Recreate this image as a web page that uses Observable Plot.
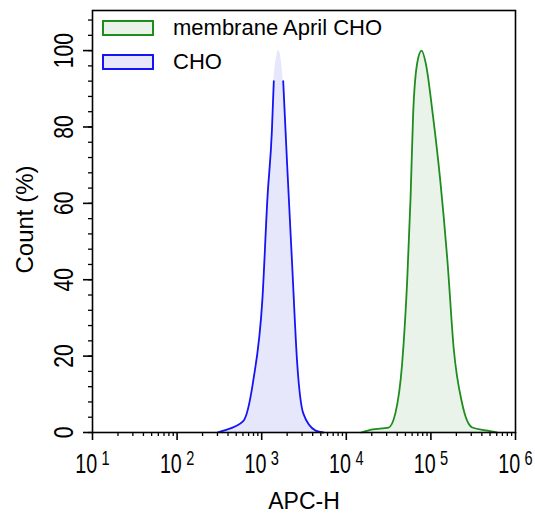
<!DOCTYPE html>
<html><head><meta charset="utf-8">
<script src="https://cdn.jsdelivr.net/npm/d3@7"></script>
<script src="https://cdn.jsdelivr.net/npm/@observablehq/plot@0.6"></script>
<style>
body{margin:0;background:#fff;}
#wrap{position:relative;width:535px;height:514px;}
.leg{position:absolute;left:102px;font-family:"Liberation Sans",Arial,sans-serif;font-size:22px;display:flex;align-items:center;height:20px;}
.sw{box-sizing:border-box;width:52px;height:16px;border:2px solid;margin-right:19px;}
</style></head><body><div id="wrap"></div>
<script>
// Data
const seriesNames = ["membrane April CHO", "CHO"];
const aprilX = [15000, 20400, 31600, 38000, 45700, 52500, 57500, 61700, 69200, 77600, 87100, 105000, 129000, 158000, 186000, 234000, 309000, 468000, 600000];
const aprilY = [0, 0.8, 1.3, 5, 18, 40, 61.5, 83.5, 97, 100, 96.6, 83.5, 66, 44, 22, 7.6, 1.3, 0.5, 0];
const choX = [300, 355, 605, 795, 1020, 1170, 1320, 1390, 1592, 1795, 2000, 2290, 2630, 3100, 4340, 5370];
const choY = [0, 0.5, 3, 13.6, 35, 61.5, 79, 92, 100, 92, 70, 44, 18, 5, 0.5, 0];
const xTickValues = [10, 100, 1000, 10000, 100000, 1000000];
const yTickValues = [0, 20, 40, 60, 80, 100];
const xLabel = "APC-H";
const yLabel = "Count (%)";

const strokeColors = ["#1e8c1e", "#1414f5"];
const fillColors = ["#e9f3e9", "#e6e7fa"];

const april = aprilX.map((x, i) => ({x, y: aprilY[i]}));
const cho = choX.map((x, i) => ({x, y: choY[i]}));
const xMinor = [];
for (const d of xTickValues.slice(0, -1)) for (let k = 2; k <= 9; k++) xMinor.push(d * k);
const yMinor = d3.range(0, 110, 4);

const chart = Plot.plot({
  width: 535, height: 514,
  marginLeft: 92, marginRight: 20, marginTop: 10, marginBottom: 82,
  x: {type: "log", domain: [10, 1e6]},
  y: {domain: [0, 110.5]},
  style: {fontFamily: '"Liberation Sans",Arial,sans-serif', color: "#000", background: "#fff"},
  marks: [
    Plot.areaY(cho, {x: "x", y: "y", fill: fillColors[1], curve: "monotone-x"}),
    Plot.lineY(cho, {x: "x", y: d => d.y < 95 ? d.y : NaN, stroke: strokeColors[1], strokeWidth: 1.8, curve: "monotone-x"}),
    Plot.areaY(april, {x: "x", y: "y", fill: fillColors[0], curve: "monotone-x"}),
    Plot.lineY(april, {x: "x", y: "y", stroke: strokeColors[0], strokeWidth: 1.8, curve: "monotone-x"}),
    Plot.frame({stroke: "#000", strokeWidth: 1.6}),
    Plot.axisX({ticks: xMinor, tickSize: 4, tickFormat: () => "", label: null, strokeWidth: 1.3}),
    Plot.axisX({ticks: xTickValues, tickSize: 8, tickPadding: 13, label: null, strokeWidth: 1.6,
      tickFormat: d => "10|" + Math.round(Math.log10(d)), fontSize: 27}),
    Plot.axisY({ticks: yMinor, tickSize: 4, tickFormat: () => "", label: null, strokeWidth: 1.3}),
    Plot.axisY({ticks: yTickValues, tickSize: 9, tickPadding: 11, tickRotate: -90, label: null, strokeWidth: 1.6,
      fontSize: 27}),
    Plot.text([xLabel], {frameAnchor: "bottom", dy: 60, fontSize: 23, lineAnchor: "top"}),
    Plot.text([yLabel], {frameAnchor: "left", dx: -67, dy: -2, rotate: -90, fontSize: 24, textAnchor: "middle"})
  ]
});

const svg = d3.select(chart);
svg.selectAll('g[aria-label="x-axis tick label"] text').each(function() {
  const t = this.textContent;
  if (!t.includes("|")) return;
  const [base, exp] = t.split("|");
  const sel = d3.select(this);
  sel.text(base);
  sel.append("tspan").attr("dx", "6px").attr("dy", "-8px").attr("font-size", "20px").text(exp);
  const tr = this.getAttribute("transform") || "";
  this.setAttribute("transform", tr + " scale(0.73,1)");
});
svg.selectAll('g[aria-label="y-axis tick label"] text').each(function() {
  if (!this.textContent) return;
  const tr = this.getAttribute("transform") || "";
  this.setAttribute("transform", tr + " scale(0.78,1)");
});

const wrap = document.getElementById("wrap");
wrap.appendChild(chart);
seriesNames.forEach((name, i) => {
  const row = document.createElement("div");
  row.className = "leg";
  row.style.top = (18 + i * 34) + "px";
  const sw = document.createElement("div");
  sw.className = "sw";
  sw.style.borderColor = strokeColors[i];
  sw.style.background = fillColors[i];
  row.appendChild(sw);
  row.appendChild(document.createTextNode(name));
  wrap.appendChild(row);
});
</script>
</body></html>
